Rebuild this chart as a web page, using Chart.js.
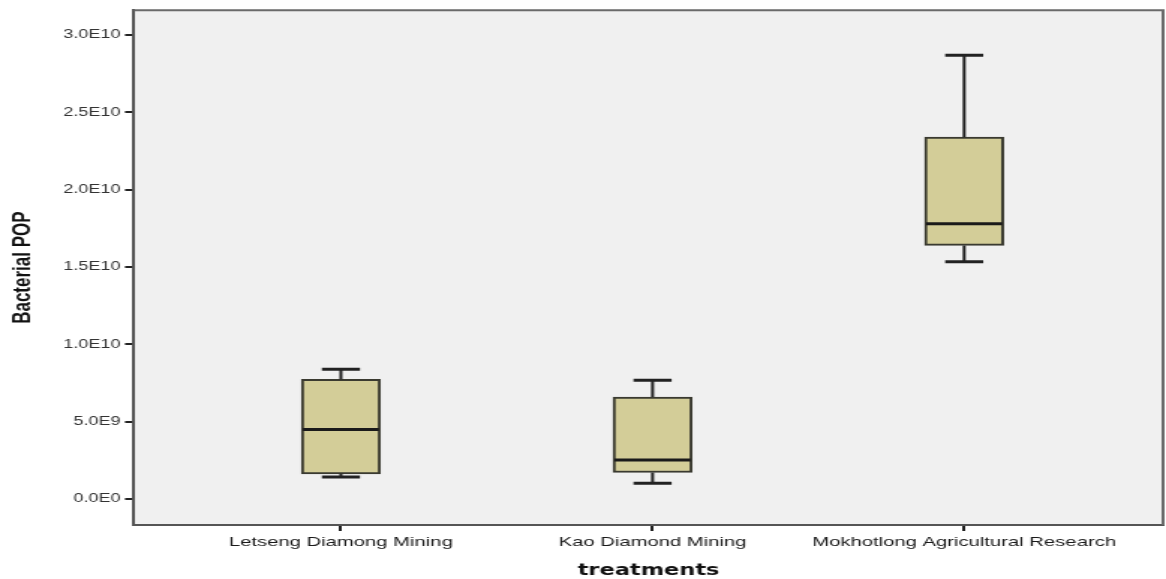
<!DOCTYPE html>
<html>
<head>
<meta charset="utf-8">
<script src="https://cdn.jsdelivr.net/npm/chart.js@4.4.1/dist/chart.umd.min.js"></script>
<style>
    html, body { margin: 0; padding: 0; background: #ffffff; }
    #chart { display: block; }
</style>
</head>
<body>
<!-- the reference is stretched horizontally, so the canvas is drawn narrow and widened by its inline style -->
<canvas id="chart" width="778" height="579" style="width:1166px;height:579px"></canvas>
<script>
const categories = ['Letseng Diamong Mining', 'Kao Diamond Mining', 'Mokhotlong Agricultural Research'];
const whiskerLow = [1.42e9, 1.03e9, 15.35e9];
const quartile1 = [1.63e9, 1.72e9, 16.4e9];
const medians = [4.49e9, 2.52e9, 17.8e9];
const quartile3 = [7.74e9, 6.6e9, 23.4e9];
const whiskerHigh = [8.39e9, 7.68e9, 28.7e9];

const yTickValues = [0, 5e9, 1e10, 1.5e10, 2e10, 2.5e10, 3e10];
const yTickLabels = ['0.0E0', '5.0E9', '1.0E10', '1.5E10', '2.0E10', '2.5E10', '3.0E10'];
const xTickValues = [0, 1, 2];

const boxData = categories.map((c, i) => ({ x: i, y: [quartile1[i], quartile3[i]] }));

// plot background and frame
const framePlugin = {
    id: 'frame',
    beforeDraw(chart) {
        const { ctx, chartArea: a } = chart;
        ctx.save();
        ctx.fillStyle = '#f0f0f0';
        ctx.fillRect(a.left, a.top, a.right - a.left, a.bottom - a.top);
        ctx.restore();
    },
    afterDraw(chart) {
        const { ctx, chartArea: a } = chart;
        ctx.save();
        ctx.strokeStyle = '#6a6a6a';
        ctx.lineWidth = 2;
        ctx.beginPath();
        ctx.moveTo(a.left, a.top);
        ctx.lineTo(a.right, a.top);
        ctx.lineTo(a.right, a.bottom);
        ctx.stroke();
        ctx.restore();
    }
};

// whiskers and median lines drawn from the scales
const boxPlugin = {
    id: 'boxparts',
    afterDatasetsDraw(chart, args, opts) {
        const { ctx, scales: { x, y } } = chart;
        ctx.save();
        ctx.lineCap = 'butt';
        categories.forEach((c, i) => {
            const cx = x.getPixelForValue(i);
            const half = opts.capWidth / 2;
            const boxHalf = opts.boxWidth / 2;
            ctx.strokeStyle = '#222222';
            // vertical whisker lines
            ctx.lineWidth = 2;
            ctx.beginPath();
            ctx.moveTo(cx, y.getPixelForValue(quartile3[i]));
            ctx.lineTo(cx, y.getPixelForValue(whiskerHigh[i]));
            ctx.moveTo(cx, y.getPixelForValue(quartile1[i]));
            ctx.lineTo(cx, y.getPixelForValue(whiskerLow[i]));
            ctx.stroke();
            // caps
            ctx.lineWidth = 3;
            ctx.beginPath();
            [whiskerHigh[i], whiskerLow[i]].forEach(v => {
                const py = y.getPixelForValue(v);
                ctx.moveTo(cx - half, py);
                ctx.lineTo(cx + half, py);
            });
            ctx.stroke();
            // median
            ctx.strokeStyle = '#1a1a1a';
            ctx.beginPath();
            const my = y.getPixelForValue(medians[i]);
            ctx.moveTo(cx - boxHalf + 1, my);
            ctx.lineTo(cx + boxHalf - 1, my);
            ctx.stroke();
        });
        ctx.restore();
    }
};

new Chart(document.getElementById('chart'), {
    type: 'bar',
    data: {
        datasets: [{
            data: boxData,
            backgroundColor: '#d3cd98',
            borderColor: '#3a3a30',
            borderWidth: 2,
            borderSkipped: false,
            barThickness: 52.7
        }]
    },
    options: {
        responsive: false,
        maintainAspectRatio: false,
        animation: false,
        events: [],
        layout: { padding: { top: 9, right: 2, left: 0, bottom: 0 } },
        plugins: {
            legend: { display: false },
            tooltip: { enabled: false },
            boxparts: { capWidth: 25.4, boxWidth: 52.7 }
        },
        scales: {
            x: {
                type: 'linear',
                offset: false,
                min: -0.664,
                max: 2.638,
                afterBuildTicks: scale => { scale.ticks = xTickValues.map(v => ({ value: v })); },
                afterFit: scale => { scale.height = 54; },
                ticks: {
                    callback: (v, i) => categories[i],
                    color: '#1a1a1a',
                    font: { family: 'Liberation Sans, Arial, sans-serif', size: 13.5 },
                    padding: 3,
                    maxRotation: 0,
                    autoSkip: false
                },
                grid: { display: true, offset: false, drawOnChartArea: false, drawTicks: true, tickLength: 6, color: '#222222', lineWidth: 2 },
                border: { display: true, color: '#555555', width: 2 },
                title: {
                    display: true,
                    text: 'treatments',
                    color: '#111111',
                    font: { family: 'DejaVu Sans', size: 15, weight: 'bold', lineHeight: 1 },
                    padding: { top: 0, bottom: 0 }
                }
            },
            y: {
                min: -1.677e9,
                max: 3.161e10,
                afterBuildTicks: scale => { scale.ticks = yTickValues.map(v => ({ value: v })); },
                afterFit: scale => { scale.width = 89.4; },
                ticks: {
                    callback: (v, i) => yTickLabels[i],
                    color: '#333333',
                    font: { family: 'Liberation Sans, Arial, sans-serif', size: 12 },
                    padding: 3
                },
                grid: { display: true, drawOnChartArea: false, drawTicks: true, tickLength: 6, color: '#222222', lineWidth: 2 },
                border: { display: true, color: '#555555', width: 2 },
                title: {
                    display: true,
                    text: 'Bacterial POP',
                    color: '#111111',
                    font: { family: 'Liberation Sans, Arial, sans-serif', size: 17, weight: 'bold', lineHeight: 1.2 },
                    padding: { top: 5, bottom: 0 }
                }
            }
        }
    },
    plugins: [framePlugin, boxPlugin]
});
</script>
</body>
</html>
